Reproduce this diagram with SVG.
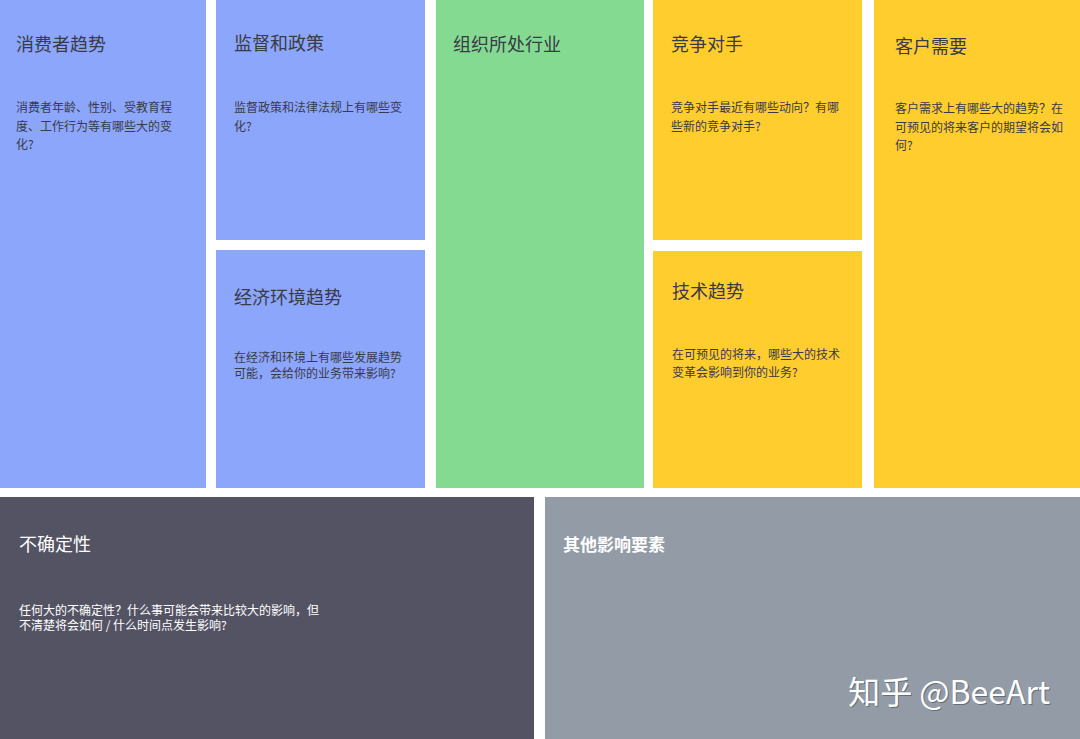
<svg xmlns="http://www.w3.org/2000/svg" width="1080" height="739" viewBox="0 0 1080 739">
<style>
text{font-family:"Noto Sans CJK SC","Noto Sans",sans-serif}
.t{font-size:18px;fill:#3a3a48}
.d{font-size:12px;fill:#3a3a48}
.tw{font-size:18px;fill:#ffffff}
.dw{font-size:12px;fill:#ffffff}
.blue{fill:#8ca6fb}
.green{fill:#84da91}
.yellow{fill:#ffce2e}
.dark{fill:#545364}
.gray{fill:#939ca6}
</style>
<rect x="0" y="0" width="1080" height="739" fill="#ffffff"/>
<g id="consumer">
<rect class="blue" x="0" y="0" width="206" height="488"/>
<text class="t" x="16" y="51">消费者趋势</text>
<text class="d" x="16" y="112">消费者年龄、性别、受教育程</text>
<text class="d" x="16" y="131">度、工作行为等有哪些大的变</text>
<text class="d" x="16" y="149">化?</text>
</g>
<g id="regulation">
<rect class="blue" x="216" y="0" width="209" height="240"/>
<text class="t" x="234" y="50">监督和政策</text>
<text class="d" x="234" y="112">监督政策和法律法规上有哪些变</text>
<text class="d" x="234" y="131">化?</text>
</g>
<g id="economy">
<rect class="blue" x="216" y="250" width="209" height="238"/>
<text class="t" x="234" y="304">经济环境趋势</text>
<text class="d" x="234" y="362">在经济和环境上有哪些发展趋势</text>
<text class="d" x="234" y="378">可能，会给你的业务带来影响?</text>
</g>
<g id="industry">
<rect class="green" x="436" y="0" width="208" height="488"/>
<text class="t" x="453" y="51">组织所处行业</text>
</g>
<g id="competitors">
<rect class="yellow" x="653" y="0" width="209" height="240"/>
<text class="t" x="671" y="51">竞争对手</text>
<text class="d" x="671" y="112">竞争对手最近有哪些动向？有哪</text>
<text class="d" x="671" y="131">些新的竞争对手?</text>
</g>
<g id="tech">
<rect class="yellow" x="653" y="251" width="209" height="237"/>
<text class="t" x="672" y="298">技术趋势</text>
<text class="d" x="672" y="359">在可预见的将来，哪些大的技术</text>
<text class="d" x="672" y="377">变革会影响到你的业务?</text>
</g>
<g id="customer">
<rect class="yellow" x="874" y="0" width="206" height="488"/>
<text class="t" x="895" y="53">客户需要</text>
<text class="d" x="895" y="113">客户需求上有哪些大的趋势？在</text>
<text class="d" x="895" y="132">可预见的将来客户的期望将会如</text>
<text class="d" x="895" y="150">何?</text>
</g>
<g id="uncertainty">
<rect class="dark" x="0" y="497" width="534" height="242"/>
<text class="tw" x="19" y="551">不确定性</text>
<text class="dw" x="19" y="615">任何大的不确定性？什么事可能会带来比较大的影响，但</text>
<text class="dw" x="19" y="630">不清楚将会如何 / 什么时间点发生影响?</text>
</g>
<g id="other">
<rect class="gray" x="545" y="497" width="535" height="242"/>
<text class="tw" x="563" y="551" font-weight="bold" style="font-size:17px">其他影响要素</text>
<text x="1051" y="705" text-anchor="end" style="font-size:32px;fill:#4a4f57;opacity:0.6">知乎 @BeeArt</text>
<text x="1050" y="704" text-anchor="end" style="font-size:32px;fill:#ffffff">知乎 @BeeArt</text>
</g>
<g id="connectors"/>
</svg>
